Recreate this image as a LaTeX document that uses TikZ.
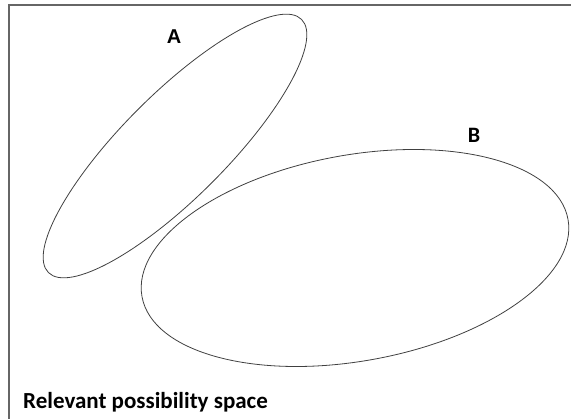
\documentclass[tikz,border=0pt]{standalone}
\usepackage{fontspec}
\setmainfont{Carlito}
\newfontfamily\labelfont{Liberation Sans}
\usetikzlibrary{shapes.geometric, positioning}

\tikzset{
    frameline/.style={draw=black!60, line width=1.2pt},
    setshape/.style={ellipse, draw=black!75, line width=0.8pt, inner sep=0pt},
    setlabel/.style={inner sep=0pt, font=\bfseries\fontsize{22}{26}\selectfont}
}

\begin{document}
\begin{tikzpicture}[x=1pt, y=-1pt]

    \useasboundingbox (0,0) rectangle (571,419);
    \draw[frameline] (9,419) -- (9,5) -- (571,5);

    % the two sets
    \node[setshape, minimum width=358, minimum height=104, rotate=45] (setA) at (175,146) {};
    \node[setshape, minimum width=433, minimum height=206, rotate=10.3] (setB) at (355,258) {};

    \node[setlabel, font=\labelfont\bfseries\fontsize{20}{24}\selectfont] (labA) at (174,36.5) {A};
    \node[setlabel] (labB) at (474,135) {B};

    \node[anchor=base west, inner sep=0pt, font=\bfseries\fontsize{23}{28}\selectfont] (space) at (23,409) {Relevant possibility space};

\end{tikzpicture}
\end{document}
